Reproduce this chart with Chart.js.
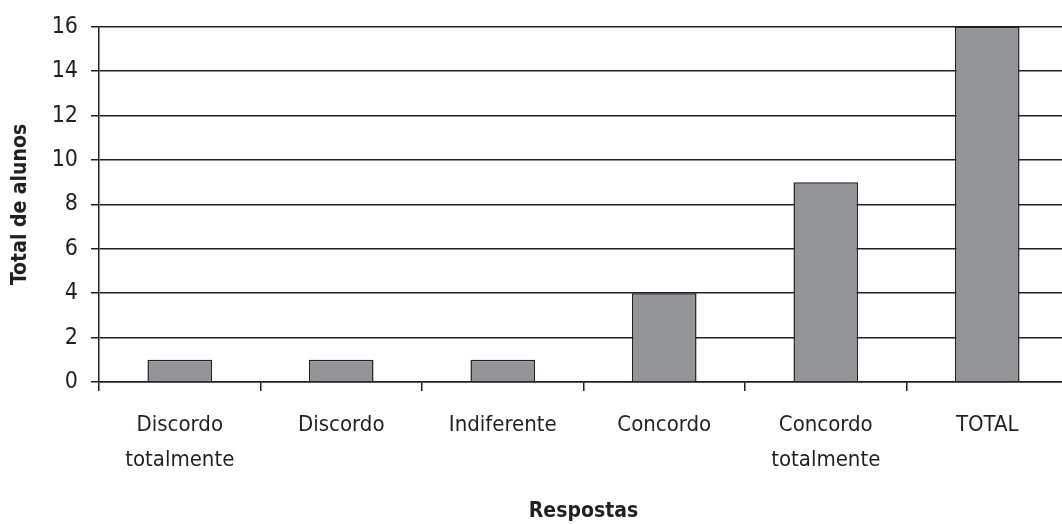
<!DOCTYPE html>
<html>
<head>
<meta charset="utf-8">
<script src="https://cdn.jsdelivr.net/npm/chart.js@4"></script>
<style>
  html, body { margin: 0; padding: 0; background: #fff; overflow: hidden; }
  #wrap { position: relative; width: 1070px; height: 524px; }
</style>
</head>
<body>
<div id="wrap"><canvas id="respostasChart"></canvas></div>
<script>
// respostas dos alunos
const categorias = [
  ["Discordo", "totalmente"],
  "Discordo",
  "Indiferente",
  "Concordo",
  ["Concordo", "totalmente"],
  "TOTAL"
];
const totalAlunos = [1, 1, 1, 4, 9, 16];
const yMin = 0;
const yMax = 16;
const yStep = 2;

const fonte = "'Liberation Sans Narrow', 'DejaVu Sans Condensed', 'Arial Narrow', sans-serif";
const preto = '#231f20';

const ctx = document.getElementById('respostasChart').getContext('2d');

new Chart(ctx, {
  type: 'bar',
  data: {
    labels: categorias,
    datasets: [{
      label: 'Total de alunos',
      data: totalAlunos,
      backgroundColor: '#939598',
      borderColor: preto,
      borderWidth: 1.5,
      barPercentage: 0.4,
      categoryPercentage: 1.0
    }]
  },
  options: {
    responsive: true,
    maintainAspectRatio: false,
    animation: false,
    layout: { padding: { top: 25, right: 2, bottom: 0, left: 0 } },
    plugins: {
      legend: { display: false },
      tooltip: { enabled: false }
    },
    scales: {
      x: {
        afterFit: (scale) => { scale.height = 142; },
        border: { color: preto, width: 1.5 },
        grid: {
          offset: true,
          drawOnChartArea: false,
          drawTicks: true,
          tickLength: 9,
          color: preto,
          lineWidth: 1.5
        },
        ticks: {
          color: preto,
          padding: 16,
          maxRotation: 0,
          autoSkip: false,
          font: { family: fonte, size: 22, lineHeight: 1.62 }
        },
        title: {
          display: true,
          text: 'Respostas',
          color: preto,
          padding: { top: 0, bottom: 0 },
          font: { family: fonte, size: 21, weight: 'bold' }
        }
      },
      y: {
        min: yMin,
        max: yMax,
        afterFit: (scale) => { scale.width = 99; },
        border: { color: preto, width: 1.5 },
        grid: {
          color: preto,
          lineWidth: 1.5,
          drawTicks: true,
          tickLength: 8
        },
        ticks: {
          stepSize: yStep,
          color: preto,
          padding: 13,
          font: { family: fonte, size: 23 }
        },
        title: {
          display: true,
          text: 'Total de alunos',
          color: preto,
          padding: { top: 8, bottom: 0 },
          font: { family: fonte, size: 21, weight: 'bold' }
        }
      }
    }
  }
});
</script>
</body>
</html>
